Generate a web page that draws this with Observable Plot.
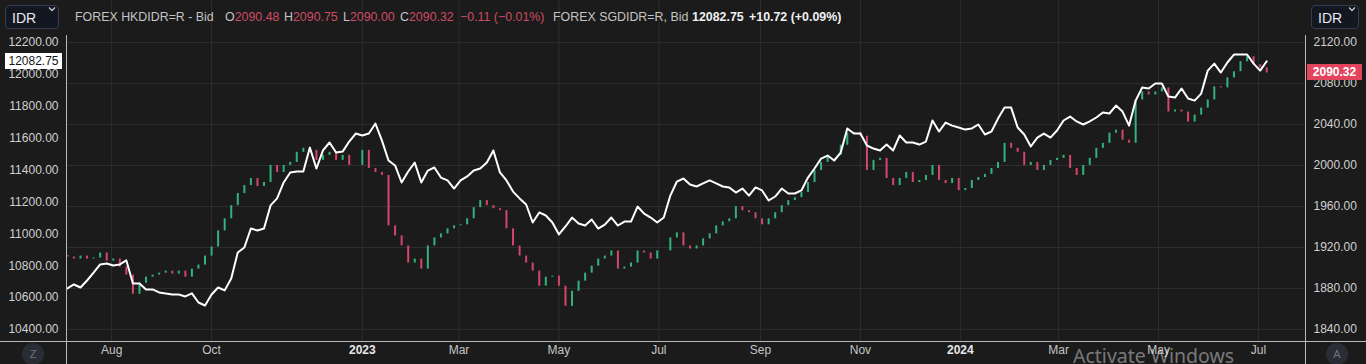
<!DOCTYPE html>
<html>
<head>
<meta charset="utf-8">
<script src="https://cdn.jsdelivr.net/npm/d3@7"></script>
<script src="https://cdn.jsdelivr.net/npm/@observablehq/plot@0.6"></script>
<style>
  html, body { margin: 0; padding: 0; background: #1b1b1b; }
  #wrap { position: relative; width: 1366px; height: 364px; overflow: hidden; background: #1b1b1b;
          font-family: "Liberation Sans", Arial, sans-serif; }
  #wrap svg { position: absolute; left: 0; top: 0; }
  .hd { position: absolute; top: 9px; font-size: 12.4px; line-height: 16px; white-space: nowrap; }
  .gray { color: #c4c4c4; }
  .red { color: #d04b66; }
  .wht { color: #f0f0f0; font-weight: bold; }
  .btn { position: absolute; top: 5px; height: 24px; border: 1px solid #363c4e; border-radius: 4px;
         background: #131722; color: #e8e8ee; font-size: 14px; line-height: 24px; padding-left: 6px; box-sizing: border-box; }
  .btn svg { position: absolute; top: 9px; }
  .tag { position: absolute; height: 16px; font-size: 12px; line-height: 16px; text-align: center; }
  .circ { position: absolute; width: 22px; height: 22px; border-radius: 11px; background: #2a2d35;
          color: #6f737d; font-size: 11px; line-height: 22px; text-align: center; }
  .wm { position: absolute; left: 1073px; top: 346px; font-family: "Noto Sans", sans-serif; font-size: 19.5px;
        line-height: 20px; color: rgba(255,255,255,0.42); white-space: nowrap; }
</style>
</head>
<body>
<div id="wrap"></div>
<script>
// ---------------- data ----------------
const startDate = "2022-07-05";   // first sample
const stepDays = 4;               // spacing of samples (calendar days)

// FOREX SGDIDR=R, Bid (white line, left axis)
const sgdidr = [
10657,10682,10663,10707,10757,10808,10814,10801,10808,10833,
10688,10688,10651,10651,10632,10626,10619,10619,10607,10626,
10569,10550,10619,10663,10645,10720,10883,10914,11033,11021,
11033,11178,11222,11322,11385,11391,11391,11541,11410,11523,
11573,11510,11516,11579,11629,11617,11629,11692,11585,11460,
11429,11322,11391,11447,11322,11397,11416,11353,11335,11284,
11335,11360,11397,11410,11447,11523,11385,11335,11265,11222,
11184,11071,11134,11115,11071,10996,11046,11102,11065,11052,
11090,11033,11058,11102,11052,11077,11077,11171,11127,11102,
11071,11102,11240,11328,11347,11309,11297,11316,11335,11316,
11297,11291,11259,11284,11240,11291,11272,11209,11234,11284,
11253,11253,11272,11353,11410,11472,11491,11460,11510,11661,
11629,11629,11554,11535,11523,11560,11523,11617,11573,11573,
11560,11579,11711,11642,11698,11679,11667,11654,11661,11686,
11623,11642,11723,11792,11792,11667,11623,11548,11604,11629,
11604,11648,11711,11736,11705,11686,11705,11730,11761,11755,
11805,11767,11679,11836,11918,11912,11943,11943,11861,11855,
11912,11849,11836,11880,12024,12068,12012,12075,12125,12125,
12125,12068,12024,12082.75
];

// FOREX HKDIDR=R - Bid closes (candles, right axis)
const hkdidr = [
1910.7,1908.7,1911.6,1908.7,1909.7,1914.6,1906.7,1908.7,1900.8,1893.0,
1874.3,1885.1,1891.0,1893.0,1894.9,1896.9,1894.0,1896.9,1891.0,1898.9,
1902.8,1911.6,1920.5,1936.2,1948.0,1960.8,1972.6,1980.4,1987.3,1979.5,
1983.4,2000.1,1993.2,2000.1,2003.0,2012.9,2016.8,2014.8,2005.0,2009.9,
2012.9,2005.0,2009.9,2000.1,2000.1,2014.8,1997.1,1993.2,1990.3,1941.1,
1931.3,1921.5,1904.8,1908.7,1898.9,1921.5,1929.3,1933.3,1938.2,1941.1,
1942.1,1948.0,1958.8,1965.7,1960.8,1957.8,1955.9,1938.2,1921.5,1911.6,
1904.8,1896.9,1882.2,1891.0,1892.0,1882.2,1862.5,1877.2,1887.1,1894.9,
1901.8,1908.7,1911.6,1916.6,1898.9,1900.8,1904.8,1916.6,1914.6,1908.7,
1916.6,1916.6,1929.3,1934.3,1921.5,1918.5,1921.5,1928.4,1933.3,1941.1,
1945.1,1948.0,1959.8,1955.9,1953.9,1948.0,1942.1,1948.0,1953.9,1960.8,
1965.7,1968.6,1973.6,1983.4,1995.2,2003.0,2009.9,2009.9,2019.8,2031.5,
2032.5,2028.6,1995.2,2005.0,2007.0,1987.3,1980.4,1987.3,1993.2,1983.4,
1985.4,1990.3,2000.1,1985.4,1982.4,1987.3,1975.5,1977.5,1985.4,1988.3,
1991.3,1997.1,2003.0,2021.7,2016.8,2012.9,2000.1,2003.0,1995.2,2000.1,
2005.0,2007.0,2009.9,1997.1,1990.3,2000.1,2007.0,2016.8,2021.7,2031.5,
2034.5,2024.7,2021.7,2064.0,2071.8,2068.9,2071.8,2075.8,2052.2,2054.2,
2052.2,2042.4,2049.2,2056.1,2064.0,2076.8,2075.8,2085.6,2091.5,2101.3,
2106.2,2098.4,2095.4,2090.32
];
const hkdFirstOpen = 1912.0;

const leftTicks = [10400, 10600, 10800, 11000, 11200, 11400, 11600, 11800, 12000, 12200];
const rightTicks = [1840, 1880, 1920, 1960, 2000, 2040, 2080, 2120];
const monthTicks = ["2022-08-01","2022-10-01","2023-01-01","2023-03-01","2023-05-01","2023-07-01",
                    "2023-09-01","2023-11-01","2024-01-01","2024-03-01","2024-05-01","2024-07-01"];
const monthLabels = ["Aug","Oct","2023","Mar","May","Jul","Sep","Nov","2024","Mar","May","Jul"];

const headerHK = {name: "FOREX HKDIDR=R - Bid", o: "2090.48", h: "2090.75", l: "2090.00", c: "2090.32", chg: "\u22120.11 (\u22120.01%)"};
const headerSG = {name: "FOREX SGDIDR=R, Bid", last: "12082.75", chg: "+10.72 (+0.09%)"};

// ---------------- build ----------------
const GREEN = "#35b27c", RED = "#d2476a";
const toR = L => 1840 + (L - 10400) * 280 / 1800;     // left-axis value -> right-axis units
const fromR = R => 10400 + (R - 1840) * 1800 / 280;

const t0 = new Date(startDate + "T00:00Z");
const data = hkdidr.map((c, i) => ({
  date: d3.utcDay.offset(t0, i * stepDays),
  open: i ? hkdidr[i - 1] : hkdFirstOpen,
  close: c,
  sgd: toR(sgdidr[i])
}));
const up = data.filter(d => d.close >= d.open);
const down = data.filter(d => d.close < d.open);
const xTicks = monthTicks.map((d, i) => ({date: new Date(d + "T00:00Z"), label: monthLabels[i], year: /^\d{4}$/.test(monthLabels[i])}));

const xDomain = [new Date("2022-07-04T11:00Z"), new Date("2024-07-29T16:00Z")];
const yDomain = [1828.2, 2131.8];
const axisColor = "#b8b8b8";

const chart = Plot.plot({
  width: 1366, height: 364,
  marginTop: 30, marginBottom: 23, marginLeft: 66, marginRight: 61,
  style: {background: "transparent", color: "#d0d0d0", fontSize: "12px", fontFamily: "Liberation Sans, Arial, sans-serif"},
  x: {type: "utc", domain: xDomain, axis: null},
  y: {domain: yDomain, axis: null},
  marks: [
    Plot.ruleY(rightTicks, {stroke: "#2e2e2e"}),
    Plot.ruleX(xTicks, {x: "date", stroke: "#2e2e2e", insetTop: -30}),
    Plot.ruleX(up, {x: "date", y1: "open", y2: "close", stroke: GREEN, strokeWidth: 2}),
    Plot.ruleX(down, {x: "date", y1: "open", y2: "close", stroke: RED, strokeWidth: 2}),
    Plot.line(data, {x: "date", y: "sgd", stroke: "#ffffff", strokeWidth: 2, strokeLinejoin: "round"}),
    Plot.axisY(rightTicks, {anchor: "right", tickSize: 0, tickPadding: 8, tickFormat: d => d.toFixed(2), fill: "#d0d0d0", label: null}),
    Plot.axisY(leftTicks.map(toR), {anchor: "left", tickSize: 0, tickPadding: 8, tickFormat: r => fromR(r).toFixed(2), fill: "#d0d0d0", label: null}),
    Plot.text(xTicks.filter(d => !d.year), {x: "date", text: "label", frameAnchor: "bottom", dy: 12, fill: "#c4c4c4"}),
    Plot.text(xTicks.filter(d => d.year), {x: "date", text: "label", frameAnchor: "bottom", dy: 12, fill: "#e6e6e6", fontWeight: "bold"}),
    Plot.ruleX([xDomain[0], xDomain[1]], {stroke: axisColor, insetTop: 5, insetBottom: -23}),
    Plot.ruleY([yDomain[0]], {stroke: axisColor, insetLeft: -66, insetRight: -61})
  ]
});

const wrap = document.getElementById("wrap");
wrap.appendChild(chart);

const ys = chart.scale("y");
const chev = `<svg width="8" height="6" viewBox="0 0 8 6"><path d="M1 1.5 L4 4.5 L7 1.5" fill="none" stroke="#c8c8d0" stroke-width="1.3"/></svg>`;

const html = [];
html.push(`<div class="btn" style="left:5px;width:54px;">IDR<span style="position:absolute;left:42px;top:0">${chev}</span></div>`);
html.push(`<div class="btn" style="left:1311px;width:48px;">IDR<span style="position:absolute;left:36px;top:0">${chev}</span></div>`);
html.push(`<span class="hd gray" style="left:75px">${headerHK.name}</span>`);
[["O", headerHK.o, 225], ["H", headerHK.h, 284], ["L", headerHK.l, 343], ["C", headerHK.c, 400]].forEach(([k, v, x]) => {
  html.push(`<span class="hd" style="left:${x}px"><span class="gray">${k}</span><span class="red">${v}</span></span>`);
});
html.push(`<span class="hd red" style="left:460px">${headerHK.chg}</span>`);
html.push(`<span class="hd gray" style="left:553px">${headerSG.name}</span>`);
html.push(`<span class="hd wht" style="left:692px">${headerSG.last}</span>`);
html.push(`<span class="hd wht" style="left:749px">${headerSG.chg}</span>`);

// last-value tags positioned from the scale
const ySg = ys.apply(toR(sgdidr[sgdidr.length - 1]));
const yHk = ys.apply(hkdidr[hkdidr.length - 1]);
html.push(`<div class="tag" style="left:5px;width:57px;top:${ySg - 8}px;background:#ffffff;color:#131313">${headerSG.last}</div>`);
html.push(`<div class="tag" style="left:1307px;width:55px;top:${yHk - 8}px;background:#e3455f;color:#ffffff;font-weight:bold">${headerHK.c}</div>`);

html.push(`<div class="circ" style="left:22px;top:343px">Z</div>`);
html.push(`<div class="circ" style="left:1326px;top:343px">A</div>`);
html.push(`<div class="wm">Activate Windows</div>`);

wrap.insertAdjacentHTML("beforeend", html.join(""));
</script>
</body>
</html>
